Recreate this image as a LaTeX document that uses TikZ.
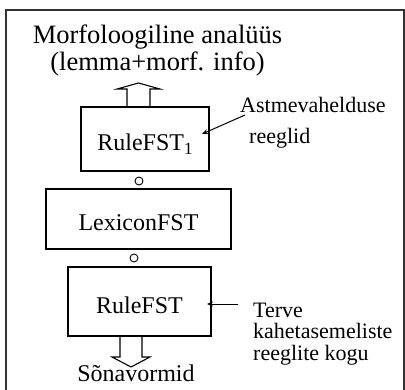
\documentclass[tikz,border=0pt]{standalone}
\usepackage{fontspec}
\setmainfont{Liberation Serif}
\usetikzlibrary{arrows.meta}
\tikzset{
  frameline/.style={line width=1.2pt, draw=black!80},
  fstbox/.style={draw, line width=1.1pt, inner sep=0pt},
  circ/.style={draw, circle, line width=0.9pt, minimum size=8pt, inner sep=0pt},
  hollow/.style={draw, line width=1.1pt, line join=miter},
  ann/.style={line width=1pt, -{Stealth[length=6pt,width=5pt]}},
  ttl/.style={font=\fontsize{26.5}{30}\selectfont, anchor=base, inner sep=0pt},
  boxtxt/.style={font=\fontsize{24}{28}\selectfont, anchor=base, inner sep=0pt},
  note/.style={font=\fontsize{22}{22}\selectfont, anchor=base west, inner sep=0pt},
}
\begin{document}
\begin{tikzpicture}[x=1pt,y=-1pt]
\useasboundingbox (0,0) rectangle (405,389);
\fill[white] (0,0) rectangle (405,389);
% frame (bottom edge off the picture)
\draw[frameline] (6,395) -- (6,10) -- (404,10) -- (404,395);

% title
\node[ttl] (t1) at (157.5,43) {Morfoloogiline analüüs};
\node[ttl] (t2) at (157.5,70) {(lemma+morf. info)};

% boxes
\node[fstbox, minimum width=128pt, minimum height=64pt] (r1) at (145,139) {};
\node[fstbox, minimum width=185pt, minimum height=60pt] (lex) at (138.5,219) {};
\node[fstbox, minimum width=143pt, minimum height=69pt] (r2) at (139.5,301.5) {};

\node[boxtxt] (r1t) at (145,150) {RuleFST\raisebox{-4pt}{\fontsize{17}{17}\selectfont 1}};
\node[boxtxt] (lext) at (138.5,230) {LexiconFST};
\node[boxtxt] (r2t) at (139.5,313) {RuleFST};

% composition circles
\node[circ] (c1) at (139,181) {};
\node[circ] (c2) at (134,258) {};

% hollow arrow up
\draw[hollow] (127,107) -- (127,89) -- (117,89) -- (138.5,83) -- (160,89) -- (150,89) -- (150,107);
% hollow arrow down
\draw[hollow] (120,336) -- (120,357) -- (112,357) -- (131,367) -- (150,357) -- (142,357) -- (142,336);

\node[boxtxt] (sv) at (136,381) {Sõnavormid};

% annotations
\node[note] (n1) at (240,112) {Astmevahelduse};
\node[note] (n2) at (249,143) {reeglid};
\node[note] (n3) at (253,317) {Terve};
\node[note] (n4) at (253,338.5) {kahetasemeliste};
\node[note] (n5) at (253,360) {reeglite kogu};

\coordinate (a1s) at (245,115);
\coordinate (a1e) at (202,134);
\coordinate (a2s) at (238,304);
\coordinate (a2e) at (207,304);
\draw[ann] (a1s) -- (a1e);
\draw[ann] (a2s) -- (a2e);
\end{tikzpicture}
\end{document}
